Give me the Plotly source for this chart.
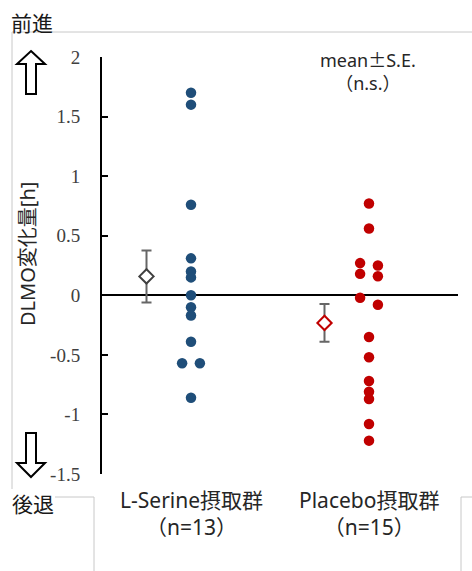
import plotly.graph_objects as go
import numpy as np

# ---- data ----
groups = ["L-Serine摂取群", "Placebo摂取群"]
group_n = ["（n=13）", "（n=15）"]
serine_values = [1.70, 1.60, 0.76, 0.31, 0.20, 0.15, 0.00, -0.10, -0.17, -0.39, -0.57, -0.57, -0.86]
serine_column = [0, 0, 0, 0, 0, 0, 0, 0, 0, 0, -1, 1, 0]
placebo_values = [0.77, 0.56, 0.27, 0.25, 0.18, 0.16, -0.02, -0.08, -0.35, -0.52, -0.72, -0.81, -0.87, -1.08, -1.22]
placebo_column = [0, 0, -1, 1, -1, 1, -1, 1, 0, 0, 0, 0, 0, 0, 0]
y_ticks = [-1.5, -1, -0.5, 0, 0.5, 1, 1.5, 2]
y_tick_labels = ["-1.5", "-1", "-0.5", "0", "0.5", "1", "1.5", "2"]

W, H = 472, 571
L, R, T, B = 102, 14, 57, 97
PW, PH = W - L - R, H - T - B


def pxx(x):
    return (x - L) / PW


def pxy(y):
    return (H - B - y) / PH


blue = "#1F4E79"
red = "#C00000"
jit = 0.05
sans = "Noto Sans, Noto Sans CJK JP"
serif = "Liberation Serif"

fig = go.Figure()

for i, (vals, cols, col, dcol) in enumerate([
    (serine_values, serine_column, blue, "#404040"),
    (placebo_values, placebo_column, red, red),
]):
    xc = i + 1
    vals = np.array(vals)
    mean = vals.mean()
    se = vals.std(ddof=1) / np.sqrt(len(vals))
    fig.add_trace(go.Scatter(
        x=[xc + c * jit for c in cols], y=vals, mode="markers",
        marker=dict(color=col, size=10.5, line=dict(width=0)),
        showlegend=False, hoverinfo="y"))
    fig.add_trace(go.Scatter(
        x=[xc - 0.25], y=[mean], mode="markers",
        marker=dict(symbol="diamond", color="white", size=11,
                    line=dict(color=dcol, width=2)),
        error_y=dict(type="data", array=[se], visible=True,
                     color="#666666", thickness=2, width=5),
        showlegend=False))

fig.update_layout(
    width=W, height=H, autosize=False,
    margin=dict(l=L, r=R, t=T, b=B, pad=0),
    paper_bgcolor="white", plot_bgcolor="white",
    xaxis=dict(range=[0.5, 2.5], showgrid=False, zeroline=False,
               showline=False, showticklabels=False, fixedrange=True),
    yaxis=dict(range=[-1.5, 2.0], tickvals=y_ticks, ticktext=y_tick_labels,
               showgrid=False, zeroline=True, zerolinecolor="black",
               zerolinewidth=2, showline=True, linecolor="black",
               linewidth=2, ticks="inside", ticklen=6, tickwidth=2,
               tickcolor="black", ticklabelstandoff=16,
               tickfont=dict(family=serif, size=19, color="#404040"),
               fixedrange=True),
    font=dict(family=sans, color="#262626"),
)


def label(text, x, y, size, xref="paper", angle=0, color="#262626", family=sans):
    fig.add_annotation(text=text, xref=xref, yref="paper",
                       x=x, y=pxy(y), textangle=angle, showarrow=False,
                       xanchor="center", yanchor="middle",
                       font=dict(size=size, color=color, family=family))


# axis title
label("DLMO変化量[h]", pxx(28), 254, 20, angle=-90)

# category labels
for i, (g, n) in enumerate(zip(groups, group_n)):
    label(g + "<br>" + n, i + 1, 513, 21, xref="x")

label("mean<span style='font-family:Noto Sans CJK JP'>±</span>S.E.<br>（n.s.）",
      pxx(368), 70.5, 18)

label("前進", pxx(32), 22, 21, color="#1a1a1a", family="Noto Sans CJK JP")
label("後退", pxx(33), 503, 21, color="#1a1a1a", family="Noto Sans CJK JP")

# light gray frame lines (cropped text-box borders)
gray = "#C8C8C8"
segs = [((12, 32), (472, 32)), ((12, 32), (12, 489)),
        ((55, 497), (94, 497)), ((94, 497), (94, 571)),
        ((461, 497), (472, 497)), ((461, 497), (461, 571))]
for (x0, y0), (x1, y1) in segs:
    fig.add_shape(type="line", xref="paper", yref="paper",
                  x0=pxx(x0), y0=pxy(y0), x1=pxx(x1), y1=pxy(y1),
                  line=dict(color=gray, width=1), layer="below")


# hollow block arrows
def arrow_path(pts):
    return "M " + " L ".join(f"{pxx(x)},{pxy(y)}" for x, y in pts) + " Z"


up = [(31, 51), (45, 64), (36, 64), (36, 94), (26, 94), (26, 64), (17, 64)]
down = [(31, 477), (45, 463), (36, 463), (36, 433), (26, 433), (26, 463), (17, 463)]
for pts in (up, down):
    fig.add_shape(type="path", xref="paper", yref="paper",
                  path=arrow_path(pts), fillcolor="white",
                  line=dict(color="black", width=2))

fig.write_html("out.html", config={"displayModeBar": False},
               post_script="document.body.style.margin='0';document.body.style.overflow='hidden';")
